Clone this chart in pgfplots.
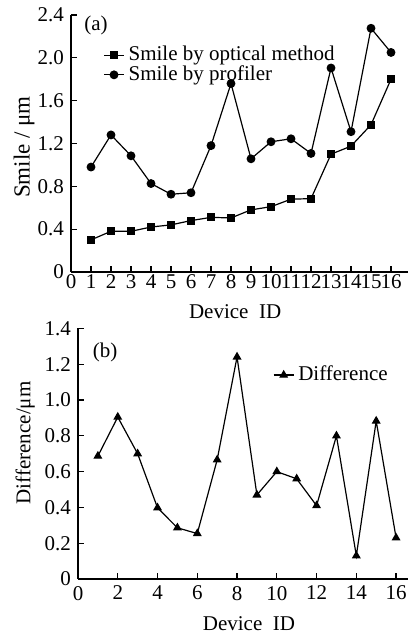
\documentclass[border=0pt]{standalone}
\usepackage{fontspec}
\setmainfont{Liberation Serif}
\usepackage{pgfplots}
\pgfplotsset{compat=1.18}
\begin{document}
\begin{tikzpicture}
\useasboundingbox (0,0) rectangle (204pt,317.5pt);
\pgfplotsset{
  myax/.style={
    scale only axis,
    axis x line=bottom, axis y line=left,
    axis line style={-, line width=0.6pt},
    tick align=inside, major tick length=3pt,
    tick style={line width=0.6pt, black},
    xtick pos=left, ytick pos=left,
    /pgf/number format/assume math mode=true,
    tick label style={font=\fontsize{10.5}{12}\selectfont},
    label style={font=\fontsize{10.5}{12}\selectfont},
    every axis plot/.append style={black, line width=0.6pt},
    clip=false,
    legend style={draw=none, fill=none, font=\fontsize{10.5}{10}\selectfont, inner sep=0pt, row sep=-3pt, cells={anchor=west}},
    legend image code/.code={\draw[mark repeat=2,mark phase=2,##1] plot coordinates {(0pt,0pt)(5pt,0pt)(10pt,0pt)};},
  }
}
% top axis
\begin{axis}[myax,
  at={(35.5pt,181.5pt)}, anchor=south west,
  width=168.5pt, height=128.5pt,
  xmin=0, xmax=16.85, ymin=0, ymax=2.4,
  xtick={0,1,...,16},
  ytick={0,0.4,0.8,1.2,1.6,2.0,2.4},
  yticklabels={0,0.4,0.8,1.2,1.6,2.0,2.4},
  xticklabel style={inner sep=1pt},
  xlabel={Device\ \ ID},
  ylabel={Smile / μm},
  xlabel style={at={(axis description cs:0.487,-0.156)}, anchor=center},
  ylabel style={at={(axis description cs:-0.139,0.486)}, anchor=center, rotate=0, font=\fontsize{11.5}{12}\selectfont},
  legend style={at={(axis description cs:0.095,0.895)}, anchor=north west},
]
\addplot[mark=square*, mark size=1.7pt] coordinates {
(1,0.30) (2,0.38) (3,0.38) (4,0.42) (5,0.44) (6,0.48) (7,0.51) (8,0.505)
(9,0.58) (10,0.61) (11,0.68) (12,0.685) (13,1.10) (14,1.175) (15,1.375) (16,1.80)};
\addlegendentry{Smile by optical method}
\addplot[mark=*, mark size=1.9pt] coordinates {
(1,0.98) (2,1.28) (3,1.085) (4,0.826) (5,0.726) (6,0.74) (7,1.18) (8,1.76)
(9,1.057) (10,1.216) (11,1.244) (12,1.107) (13,1.905) (14,1.31) (15,2.276) (16,2.05)};
\addlegendentry{Smile by profiler}
\node[anchor=center, font=\fontsize{10.5}{12}\selectfont] at (axis description cs:0.074,0.961) {(a)};
\end{axis}
% bottom axis
\begin{axis}[myax,
  at={(39pt,28pt)}, anchor=south west,
  width=165pt, height=125.25pt,
  xmin=0, xmax=16.6, ymin=0, ymax=1.4,
  xtick={0,2,...,16},
  ytick={0,0.2,0.4,0.6,0.8,1.0,1.2,1.4},
  yticklabels={0,0.2,0.4,0.6,0.8,1.0,1.2,1.4},
  xlabel={Device\ \ ID},
  ylabel={Difference/μm},
  xlabel style={at={(axis description cs:0.518,-0.18)}, anchor=center},
  ylabel style={at={(axis description cs:-0.16,0.543)}, anchor=center, rotate=0},
  legend style={at={(axis description cs:0.59,0.814)}, anchor=west},
]
\addplot[mark=triangle*, mark size=2pt] coordinates {
(1,0.687) (2,0.905) (3,0.70) (4,0.398) (5,0.286) (6,0.254) (7,0.666) (8,1.241)
(9,0.47) (10,0.60) (11,0.56) (12,0.41) (13,0.80) (14,0.13) (15,0.883) (16,0.23)};
\addlegendentry{Difference}
\node[anchor=center, font=\fontsize{10.5}{12}\selectfont] at (axis description cs:0.082,0.906) {(b)};
\end{axis}
\end{tikzpicture}
\end{document}
